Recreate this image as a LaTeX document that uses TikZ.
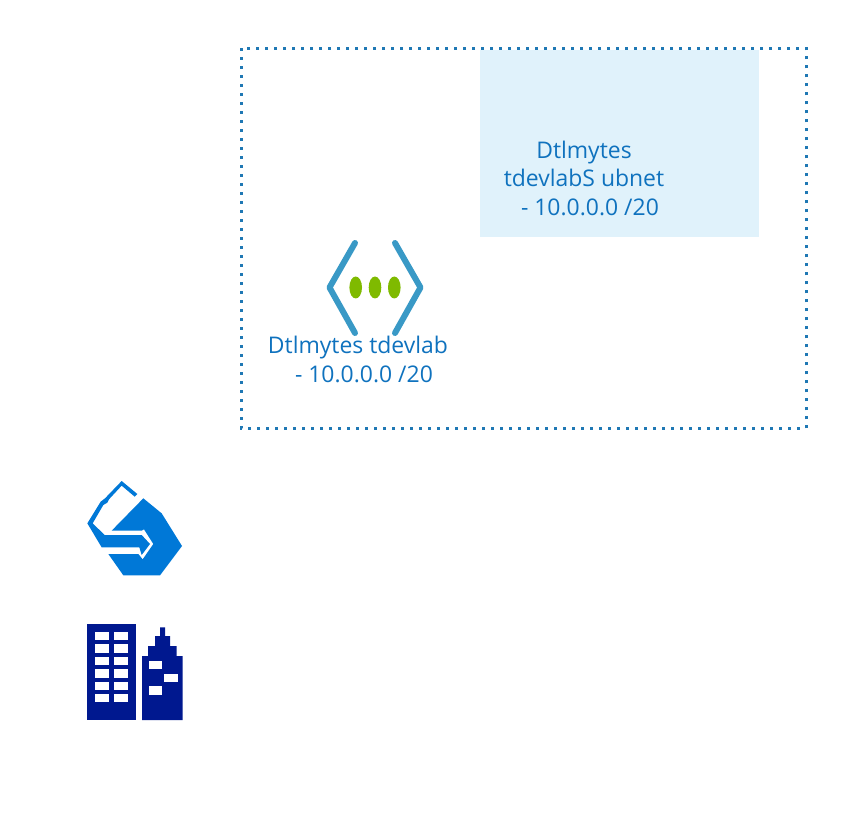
\documentclass[tikz,border=0pt]{standalone}
\usepackage{fontspec}
\setmainfont{Open Sans}

\definecolor{dotblue}{HTML}{1F78B4}
\definecolor{subnetfill}{HTML}{E0F2FB}
\definecolor{labelblue}{HTML}{0F72BE}
\definecolor{chevronblue}{HTML}{3999C6}
\definecolor{dotgreen}{HTML}{7FBA00}
\definecolor{gatewayblue}{HTML}{0078D7}
\definecolor{buildingblue}{HTML}{00188F}

\tikzset{
  netlabel/.style={text=labelblue, font=\fontsize{17.2}{21.4}\selectfont, align=center, inner sep=0pt},
  chevron/.style={draw=chevronblue, line width=4.5pt, line cap=round, line join=round},
}

\begin{document}
\begin{tikzpicture}[x=0.75pt, y=-0.75pt]
    \useasboundingbox (0,0) rectangle (864,816);

    % Virtual network border and subnet
    \fill[subnetfill] (480,50) rectangle (759,237);
    \draw[dotblue, line width=2.25pt, dash pattern=on 2.25pt off 4.5pt] (241,48.5) rectangle (806,428.5);
    \node[netlabel] (subnetlabel) at (584,178) {Dtlmytes\\tdevlabS ubnet\\\ \ - 10.0.0.0 /20};

    % Network icon
    \draw[chevron] (355,243) -- (329.5,287.5) -- (355,333);
    \draw[chevron] (395,243) -- (420.5,287.5) -- (395,333);
    \foreach \dotx in {355.7,375,394.3}
        \fill[dotgreen] (\dotx,287.5) ellipse (6.3 and 11);
    \node[netlabel] (vnetlabel) at (358,359.5) {Dtlmytes tdevlab\\\ \ - 10.0.0.0 /20};

    % Gateway icon
    \begin{scope}[shift={(70,470)}, x=0.25pt, y=-0.25pt]
        \fill[gatewayblue] (220,85) -- (275,130) -- (336,228) -- (270,316) -- (160,316)
            -- (115,252) -- (205,252) -- (218,268) -- (250,222) -- (222,178) -- (215,182) -- (125,182) -- cycle;
        \fill[gatewayblue] (155,33) -- (202,72) -- (194,80) -- (155,47) -- (117,88) -- (112,98)
            -- (100,105) -- (68,160) -- (104,195) -- (215,195) -- (240,222) -- (215,255) -- (208,232)
            -- (95,232) -- (52,160) -- (92,95) -- (105,85) -- cycle;
    \end{scope}

    % Building icon
    \begin{scope}[shift={(70,610)}, x=0.25pt, y=-0.25pt]
        \fill[buildingblue] (50,42) rectangle (198,330);
        \foreach \winy in {66,103,140,178,215,252}
            \foreach \winx in {75,133}
                \fill[white] (\winx,\winy) rectangle ++(41,25);
        \fill[buildingblue] (216,330) -- (216,138) -- (234,138) -- (234,108) -- (255,108) -- (255,78)
            -- (270,78) -- (270,52) -- (285,52) -- (285,78) -- (300,78) -- (300,108) -- (320,108)
            -- (320,138) -- (338,138) -- (338,330) -- cycle;
        \fill[white] (237,153) rectangle (277,177);
        \fill[white] (282,192) rectangle (325,216);
        \fill[white] (237,228) rectangle (277,255);
    \end{scope}
\end{tikzpicture}
\end{document}
